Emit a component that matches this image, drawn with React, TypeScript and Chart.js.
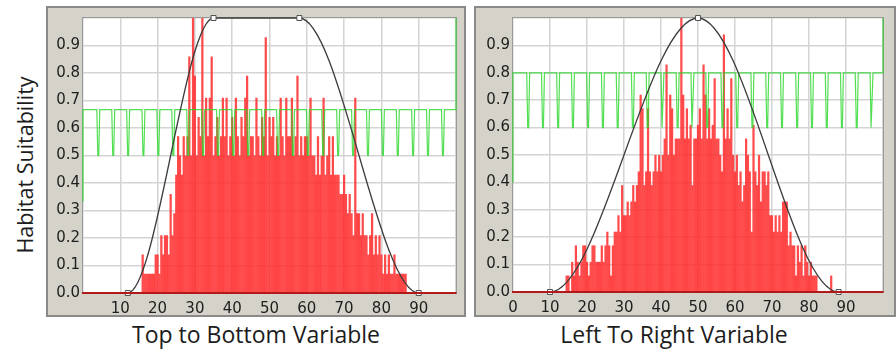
import { useEffect, useRef } from 'react';
import { Chart, registerables } from 'chart.js';

Chart.register(...registerables);

// ---- Histogram bins (0.5-unit bins, heights relative to the tallest bin) ----
const BIN_STEP = 0.5;

const TOP_BOTTOM_BIN_START = 15.5;
const TOP_BOTTOM_HEIGHTS = [
  0, 0.14, 0.07, 0.07, 0.07, 0.07, 0.07, 0.07, 0.14, 0.14,
  0.07, 0.21, 0.14, 0.21, 0.21, 0.14, 0.36, 0.21, 0.29, 0.43,
  0.57, 0.5, 0.43, 0.57, 0.5, 0.57, 0.86, 0.5, 1, 0.79,
  0.5, 0.64, 0.57, 1, 0.5, 0.71, 0.57, 0.71, 0.86, 0.5,
  0.57, 0.64, 0.5, 0.57, 0.71, 0.57, 0.71, 0.5, 0.57, 0.64,
  0.5, 0.71, 0.57, 0.5, 0.64, 0.57, 0.71, 0.79, 0.5, 0.57,
  0.57, 0.5, 0.71, 0.57, 0.5, 0.64, 0.57, 0.93, 0.5, 0.64,
  0.57, 0.64, 0.5, 0.57, 0.5, 0.71, 0.57, 0.5, 0.71, 0.57,
  0.57, 0.71, 0.5, 0.57, 0.79, 0.5, 0.57, 0.5, 0.57, 0.57,
  0.5, 0.71, 0.5, 0.5, 0.43, 0.57, 0.43, 0.5, 0.71, 0.43,
  0.5, 0.57, 0.43, 0.57, 0.43, 0.43, 0.43, 0.36, 0.36, 0.43,
  0.36, 0.29, 0.36, 0.29, 0.21, 0.71, 0.29, 0.29, 0.21, 0.29,
  0.21, 0.21, 0.14, 0.21, 0.29, 0.14, 0.21, 0.14, 0.21, 0.14,
  0.07, 0.14, 0.07, 0.14, 0.07, 0.07, 0.14, 0.07, 0.07, 0.07,
  0.07, 0.07, 0.07,
];

const LEFT_RIGHT_BIN_START = 14.5;
const LEFT_RIGHT_HEIGHTS = [
  0.06, 0.06, 0, 0.11, 0.06, 0.17, 0.11, 0.06, 0.11, 0.17,
  0.17, 0.11, 0.06, 0.11, 0.17, 0.17, 0.11, 0.11, 0.11, 0.17,
  0.11, 0.17, 0.22, 0.17, 0.06, 0.17, 0.22, 0.22, 0.28, 0.22,
  0.39, 0.28, 0.28, 0.33, 0.28, 0.33, 0.39, 0.33, 0.39, 0.44,
  0.72, 0.67, 0.39, 0.44, 0.67, 0.44, 0.39, 0.44, 0.5, 0.44,
  0.5, 0.44, 0.5, 0.56, 0.83, 0.5, 0.72, 0.67, 0.5, 0.56,
  0.56, 0.56, 1, 0.72, 0.56, 0.67, 0.56, 0.61, 0.39, 0.56,
  0.56, 0.61, 0.67, 0.56, 0.83, 0.72, 0.56, 0.67, 0.56, 0.61,
  0.78, 0.56, 0.56, 0.5, 0.44, 0.94, 0.56, 0.67, 0.56, 0.78,
  0.5, 0.44, 0.5, 0.39, 0.44, 0.33, 0.39, 0.56, 0.5, 0.44,
  0.22, 0.61, 0.44, 0.39, 0.5, 0.33, 0.44, 0.44, 0.39, 0.44,
  0.28, 0.28, 0.22, 0.28, 0.22, 0.28, 0.22, 0.33, 0.33, 0.33,
  0.17, 0.22, 0.17, 0.17, 0.06, 0.17, 0.11, 0.17, 0.06, 0.17,
  0.11, 0.06, 0.11, 0.06, 0.06, 0.06, 0, 0, 0, 0,
  0, 0, 0, 0.06,
];

// ---- Suitability curves (control points; the squares are the handles) ----
const TOP_BOTTOM_CURVE_X = [0, 12, 35, 58, 90, 100];
const TOP_BOTTOM_CURVE_Y = [0, 0, 1, 1, 0, 0];
const TOP_BOTTOM_HANDLES = [false, true, true, true, true, false];

const LEFT_RIGHT_CURVE_X = [0, 10, 50, 88, 100];
const LEFT_RIGHT_CURVE_Y = [0, 0, 1, 0, 0];
const LEFT_RIGHT_HANDLES = [false, true, true, true, false];

// ---- Green comb trace: level, notch floor, edge values and notch centres ----
const TOP_BOTTOM_COMB_HIGH = 0.667;
const TOP_BOTTOM_COMB_LOW = 0.5;
const TOP_BOTTOM_COMB_START = 0.333;
const TOP_BOTTOM_COMB_END = 1;
const TOP_BOTTOM_NOTCHES = [
  4.1, 8.1, 12.1, 16.2, 20.2, 24.2, 28.2, 32.2, 36.2, 40.3, 44.3, 48.3,
  52.3, 56.3, 60.3, 64.4, 68.4, 72.4, 76.4, 80.4, 84.4, 88.5, 92.5, 96.5,
];

const LEFT_RIGHT_COMB_HIGH = 0.8;
const LEFT_RIGHT_COMB_LOW = 0.6;
const LEFT_RIGHT_COMB_START = 0.4;
const LEFT_RIGHT_COMB_END = 1;
const LEFT_RIGHT_NOTCHES = [
  4.1, 8.1, 12.2, 16.2, 20.3, 24.3, 28.3, 32.4, 36.4, 40.4, 44.5, 48.5,
  52.5, 56.6, 60.6, 64.7, 68.7, 72.7, 76.8, 80.8, 84.8, 88.9, 92.9, 96.9,
];

// ---- Axis tick labels ----
const TOP_BOTTOM_X_LABELS = ['', '10', '20', '30', '40', '50', '60', '70', '80', '90', ''];
const LEFT_RIGHT_X_LABELS = ['0', '10', '20', '30', '40', '50', '60', '70', '80', '90', ''];
const Y_LABELS = ['0.0', '0.1', '0.2', '0.3', '0.4', '0.5', '0.6', '0.7', '0.8', '0.9', ''];

const X_AXIS_TITLE_LEFT = 'Top to Bottom Variable';
const X_AXIS_TITLE_RIGHT = 'Left To Right Variable';
const Y_AXIS_TITLE = 'Habitat Suitability';

type PanelSpec = {
  left: number;
  top: number;
  width: number;
  height: number;
  plotLeft: number;
  plotRight: number;
  plotTop: number;
  plotBottom: number;
  binStart: number;
  heights: number[];
  curveX: number[];
  curveY: number[];
  handles: boolean[];
  combHigh: number;
  combLow: number;
  combStart: number;
  combEnd: number;
  notches: number[];
  xLabels: string[];
};

const NOTCH_HALF_TOP = 0.4;
const NOTCH_HALF_BOTTOM = 0.12;

function combPoints(spec: PanelSpec) {
  const pts: { x: number; y: number }[] = [
    { x: 0, y: spec.combStart },
    { x: 0, y: spec.combHigh },
  ];
  spec.notches.forEach((c) => {
    pts.push({ x: c - NOTCH_HALF_TOP, y: spec.combHigh });
    pts.push({ x: c - NOTCH_HALF_BOTTOM, y: spec.combLow });
    pts.push({ x: c + NOTCH_HALF_BOTTOM, y: spec.combLow });
    pts.push({ x: c + NOTCH_HALF_TOP, y: spec.combHigh });
  });
  pts.push({ x: 100, y: spec.combHigh });
  pts.push({ x: 100, y: spec.combEnd });
  return pts;
}

const framePlugin = {
  id: 'panelFrame',
  beforeDraw(chart: any) {
    const { ctx, width, height, chartArea: a } = chart;
    ctx.save();
    ctx.fillStyle = '#d5d2ca';
    ctx.fillRect(0, 0, width, height);
    ctx.strokeStyle = '#8a8a8a';
    ctx.lineWidth = 2;
    ctx.strokeRect(1, 1, width - 2, height - 2);
    ctx.fillStyle = '#ffffff';
    ctx.fillRect(a.left, a.top, a.right - a.left, a.bottom - a.top);
    ctx.restore();
  },
  beforeDatasetsDraw(chart: any) {
    const { ctx, chartArea: a } = chart;
    ctx.save();
    ctx.strokeStyle = '#9a9a9a';
    ctx.lineWidth = 1;
    ctx.strokeRect(a.left - 0.5, a.top - 0.5, a.right - a.left + 1, a.bottom - a.top + 1);
    ctx.restore();
  },
};

function Panel({ spec }: { spec: PanelSpec }) {
  const ref = useRef<HTMLCanvasElement>(null);

  useEffect(() => {
    if (!ref.current) return;
    const bars = spec.heights.map((h, i) => ({ x: spec.binStart + i * BIN_STEP, y: h }));
    const curve = spec.curveX.map((x, i) => ({ x, y: spec.curveY[i] }));
    const tickFont = { family: '"DejaVu Sans", Verdana, sans-serif', size: 15 };

    const chart = new Chart(ref.current, {
      type: 'bar',
      data: {
        datasets: [
          {
            type: 'line',
            data: curve,
            borderColor: '#3c3c3c',
            borderWidth: 1.3,
            cubicInterpolationMode: 'monotone',
            fill: false,
            clip: false,
            pointStyle: 'rect',
            pointRadius: spec.handles.map((h) => (h ? 3.5 : 0)),
            pointBackgroundColor: '#ffffff',
            pointBorderColor: '#505050',
            pointBorderWidth: 1,
            order: 1,
          } as any,
          {
            type: 'line',
            data: combPoints(spec),
            borderColor: 'rgba(40, 215, 40, 0.8)',
            borderWidth: 1.2,
            tension: 0,
            fill: false,
            pointRadius: 0,
            clip: 2,
            order: 2,
          } as any,
          {
            type: 'bar',
            data: bars,
            backgroundColor: 'rgba(255, 45, 45, 0.86)',
            borderWidth: 0,
            barPercentage: 1.2,
            categoryPercentage: 1,
            order: 3,
          } as any,
        ],
      },
      options: {
        animation: false,
        responsive: false,
        devicePixelRatio: 1,
        events: [],
        layout: {
          padding: {
            left: 0,
            top: spec.plotTop,
            right: spec.width - spec.plotRight,
            bottom: 0,
          },
        },
        plugins: {
          legend: { display: false },
          tooltip: { enabled: false },
        },
        scales: {
          x: {
            type: 'linear',
            min: 0,
            max: 100,
            offset: false,
            afterFit: (s: any) => {
              s.height = spec.height - spec.plotBottom;
            },
            grid: { color: '#d4d4d4', lineWidth: 1.5, drawTicks: false, offset: false },
            border: { display: true, color: '#b01a1a', width: 2, z: 1 },
            ticks: {
              stepSize: 10,
              autoSkip: false,
              maxRotation: 0,
              padding: 7,
              color: '#1e1e1e',
              font: tickFont,
              callback: (v: any) => spec.xLabels[Math.round(Number(v) / 10)] ?? '',
            },
          },
          y: {
            type: 'linear',
            min: 0,
            max: 1,
            afterFit: (s: any) => {
              s.width = spec.plotLeft;
            },
            grid: { color: '#d4d4d4', lineWidth: 1.5, drawTicks: false },
            border: { display: false },
            ticks: {
              stepSize: 0.1,
              padding: 3,
              color: '#1e1e1e',
              font: tickFont,
              callback: (v: any) => Y_LABELS[Math.round(Number(v) * 10)] ?? '',
            },
          },
        },
      } as any,
      plugins: [framePlugin],
    });
    return () => chart.destroy();
  }, [spec]);

  return (
    <div
      style={{
        position: 'absolute',
        left: spec.left,
        top: spec.top,
        width: spec.width,
        height: spec.height,
      }}
    >
      <canvas ref={ref} width={spec.width} height={spec.height} style={{ display: 'block' }} />
    </div>
  );
}

const LEFT_PANEL: PanelSpec = {
  left: 46,
  top: 6,
  width: 420,
  height: 311,
  plotLeft: 37,
  plotRight: 410,
  plotTop: 11,
  plotBottom: 287,
  binStart: TOP_BOTTOM_BIN_START,
  heights: TOP_BOTTOM_HEIGHTS,
  curveX: TOP_BOTTOM_CURVE_X,
  curveY: TOP_BOTTOM_CURVE_Y,
  handles: TOP_BOTTOM_HANDLES,
  combHigh: TOP_BOTTOM_COMB_HIGH,
  combLow: TOP_BOTTOM_COMB_LOW,
  combStart: TOP_BOTTOM_COMB_START,
  combEnd: TOP_BOTTOM_COMB_END,
  notches: TOP_BOTTOM_NOTCHES,
  xLabels: TOP_BOTTOM_X_LABELS,
};

const RIGHT_PANEL: PanelSpec = {
  left: 474,
  top: 6,
  width: 422,
  height: 311,
  plotLeft: 39,
  plotRight: 409,
  plotTop: 11,
  plotBottom: 286,
  binStart: LEFT_RIGHT_BIN_START,
  heights: LEFT_RIGHT_HEIGHTS,
  curveX: LEFT_RIGHT_CURVE_X,
  curveY: LEFT_RIGHT_CURVE_Y,
  handles: LEFT_RIGHT_HANDLES,
  combHigh: LEFT_RIGHT_COMB_HIGH,
  combLow: LEFT_RIGHT_COMB_LOW,
  combStart: LEFT_RIGHT_COMB_START,
  combEnd: LEFT_RIGHT_COMB_END,
  notches: LEFT_RIGHT_NOTCHES,
  xLabels: LEFT_RIGHT_X_LABELS,
};

const titleFont = '"Open Sans", "Noto Sans", sans-serif';

export default function App() {
  return (
    <div
      style={{
        position: 'fixed',
        left: 0,
        top: 0,
        width: 896,
        height: 351,
        background: '#ffffff',
        overflow: 'hidden',
        fontFamily: titleFont,
        color: '#1c1c1c',
      }}
    >
      <Panel spec={LEFT_PANEL} />
      <Panel spec={RIGHT_PANEL} />
      <div
        style={{
          position: 'absolute',
          left: 25,
          top: 165,
          transform: 'translate(-50%, -50%) rotate(-90deg)',
          whiteSpace: 'nowrap',
          fontSize: 21.5,
          lineHeight: '26px',
        }}
      >
        {Y_AXIS_TITLE}
      </div>
      <div
        style={{
          position: 'absolute',
          left: 256,
          top: 334,
          transform: 'translate(-50%, -50%)',
          whiteSpace: 'nowrap',
          fontSize: 23,
          lineHeight: '28px',
        }}
      >
        {X_AXIS_TITLE_LEFT}
      </div>
      <div
        style={{
          position: 'absolute',
          left: 674,
          top: 334,
          transform: 'translate(-50%, -50%)',
          whiteSpace: 'nowrap',
          fontSize: 23,
          lineHeight: '28px',
        }}
      >
        {X_AXIS_TITLE_RIGHT}
      </div>
    </div>
  );
}
